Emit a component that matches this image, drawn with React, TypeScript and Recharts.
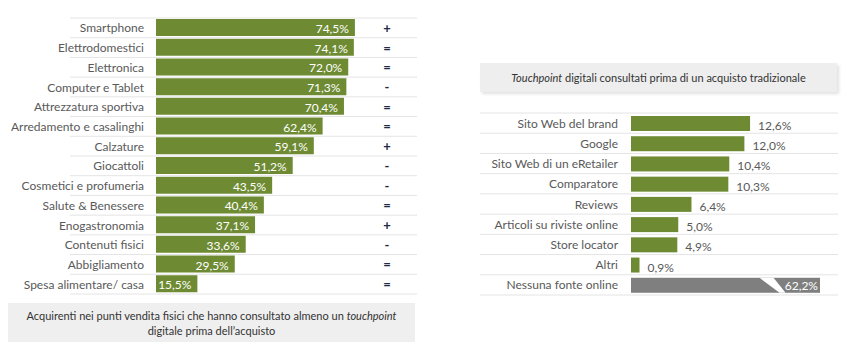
import React from "react";
import { BarChart, Bar, XAxis, YAxis, LabelList, Cell } from "recharts";

const leftCategories = [
  "Smartphone",
  "Elettrodomestici",
  "Elettronica",
  "Computer e Tablet",
  "Attrezzatura sportiva",
  "Arredamento e casalinghi",
  "Calzature",
  "Giocattoli",
  "Cosmetici e profumeria",
  "Salute & Benessere",
  "Enogastronomia",
  "Contenuti fisici",
  "Abbigliamento",
  "Spesa alimentare/ casa",
];
const leftValues = [74.5, 74.1, 72.0, 71.3, 70.4, 62.4, 59.1, 51.2, 43.5, 40.4, 37.1, 33.6, 29.5, 15.5];
const leftSigns = ["+", "=", "=", "-", "=", "=", "+", "-", "-", "=", "+", "-", "=", "="];

const rightCategories = [
  "Sito Web del brand",
  "Google",
  "Sito Web di un eRetailer",
  "Comparatore",
  "Reviews",
  "Articoli su riviste online",
  "Store locator",
  "Altri",
  "Nessuna fonte online",
];
const rightValues = [12.6, 12.0, 10.4, 10.3, 6.4, 5.0, 4.9, 0.9, 62.2];

const leftData = leftCategories.map((name, i) => ({ name, value: leftValues[i], sign: leftSigns[i] }));
const rightData = rightCategories.map((name, i) => ({ name, value: rightValues[i] }));

const GREEN = "#6e8b33";
const GRAY_BAR = "#7f7f7f";
const TEXT = "#595959";
const GRID = "#e4e4e4";
const FONT = "Lato, 'Open Sans', sans-serif";

const fmt = (v: number) => v.toFixed(1).replace(".", ",") + "%";

// Left chart geometry
const L_W = 423;
const L_H = 300;
const L_TOP = 18;
const L_BOTTOM = 6;
const L_AXIS_W = 156;
const L_BAND = (L_H - L_TOP - L_BOTTOM) / leftCategories.length;

// Right chart geometry
const R_LEFT = 470;
const R_TOP_POS = 100;
const R_W = 378;
const R_H = 200;
const R_TOP = 13;
const R_BOTTOM = 5;
const R_AXIS_W = 161;
const R_MAX = 20;
const R_BAND = (R_H - R_TOP - R_BOTTOM) / rightCategories.length;

const LeftTick = (props: any) => {
  const { y, payload } = props;
  const idx = payload?.index ?? props.index ?? 0;
  const sign = leftSigns[idx];
  return (
    <g>
      {idx === 0 && <line x1={70} x2={417} y1={y - L_BAND / 2} y2={y - L_BAND / 2} stroke={GRID} strokeWidth={1} />}
      <line x1={70} x2={417} y1={y + L_BAND / 2} y2={y + L_BAND / 2} stroke={GRID} strokeWidth={1} />
      <text x={L_AXIS_W - 12} y={y} textAnchor="end" dominantBaseline="central" fill={TEXT} fontSize={12} fontFamily={FONT}>
        {payload.value}
      </text>
      <text x={387} y={y} textAnchor="middle" dominantBaseline="central" fill="#1f2a44" fontSize={13} fontWeight="bold" fontFamily={FONT}>
        {sign}
      </text>
    </g>
  );
};

const RightTick = (props: any) => {
  const { y, payload } = props;
  const idx = payload?.index ?? props.index ?? 0;
  return (
    <g>
      {idx === 0 && <line x1={10} x2={368} y1={y - R_BAND / 2} y2={y - R_BAND / 2} stroke={GRID} strokeWidth={1} />}
      <line x1={10} x2={368} y1={y + R_BAND / 2} y2={y + R_BAND / 2} stroke={GRID} strokeWidth={1} />
      <text x={R_AXIS_W - 13} y={y} textAnchor="end" dominantBaseline="central" fill={TEXT} fontSize={12} fontFamily={FONT}>
        {payload.value}
      </text>
    </g>
  );
};

const LeftLabel = (props: any) => {
  const { x, y, width, height, value } = props;
  return (
    <text x={x + width - 6} y={y + height / 2 + 1} textAnchor="end" dominantBaseline="central" fill="#ffffff" fontSize={12} fontFamily={FONT}>
      {fmt(Number(value))}
    </text>
  );
};

const RightLabel = (props: any) => {
  const { x, y, width, height, value } = props;
  const v = Number(value);
  if (v > R_MAX) {
    const w = (width * R_MAX) / v;
    return (
      <text x={x + w - 2} y={y + height / 2} textAnchor="end" dominantBaseline="central" fill="#ffffff" fontSize={12} fontFamily={FONT}>
        {fmt(v)}
      </text>
    );
  }
  return (
    <text x={x + width + 8} y={y + height / 2 + 2} textAnchor="start" dominantBaseline="central" fill={TEXT} fontSize={12} fontFamily={FONT}>
      {fmt(v)}
    </text>
  );
};

const BrokenBar = (props: any) => {
  const { x, y, width, height, fill, background } = props;
  const maxRight = background ? background.x + background.width : x + width;
  const w = Math.min(width, maxRight - x);
  if (width <= maxRight - x + 0.5) {
    return <rect x={x} y={y} width={w} height={height} fill={fill} />;
  }
  const sx = x + w * 0.68;
  return (
    <g>
      <rect x={x} y={y} width={w} height={height} fill={fill} />
      <polygon
        points={`${sx},${y} ${sx + 14},${y} ${sx + 26},${y + height} ${sx + 20},${y + height}`}
        fill="#ffffff"
      />
    </g>
  );
};

export default function App() {
  return (
    <div style={{ position: "absolute", left: 0, top: 0, width: 848, height: 351, background: "#ffffff", fontFamily: FONT }}>
      <div style={{ position: "absolute", left: 0, top: 0 }}>
        <BarChart
          width={L_W}
          height={L_H}
          data={leftData}
          layout="vertical"
          margin={{ top: L_TOP, right: 0, bottom: L_BOTTOM, left: 0 }}
          barSize={17}
        >
          <XAxis type="number" domain={[0, 100]} hide />
          <YAxis
            type="category"
            dataKey="name"
            width={L_AXIS_W}
            axisLine={false}
            tickLine={false}
            interval={0}
            tick={(p: any) => <LeftTick {...p} />}
          />
          <Bar dataKey="value" fill={GREEN} isAnimationActive={false}>
            <LabelList dataKey="value" content={(p: any) => <LeftLabel {...p} />} />
          </Bar>
        </BarChart>
      </div>

      <div
        style={{
          position: "absolute",
          left: 8,
          top: 303,
          width: 407,
          height: 39,
          background: "#efefef",
          color: "#333333",
          fontSize: 11,
          lineHeight: "15px",
          textAlign: "center",
          display: "flex",
          flexDirection: "column",
          justifyContent: "center",
        }}
      >
        <div>
          Acquirenti nei punti vendita fisici che hanno consultato almeno un <i>touchpoint</i>
        </div>
        <div>digitale prima dell’acquisto</div>
      </div>

      <div
        style={{
          position: "absolute",
          left: 480,
          top: 63,
          width: 357,
          height: 29,
          background: "#eeeeee",
          boxShadow: "2px 2px 3px rgba(0,0,0,0.12)",
          color: "#333333",
          fontSize: 11,
          lineHeight: "29px",
          textAlign: "center",
        }}
      >
        <i>Touchpoint</i> digitali consultati prima di un acquisto tradizionale
      </div>

      <div style={{ position: "absolute", left: R_LEFT, top: R_TOP_POS }}>
        <BarChart
          width={R_W}
          height={R_H}
          data={rightData}
          layout="vertical"
          margin={{ top: R_TOP, right: R_W - R_AXIS_W - 189, bottom: R_BOTTOM, left: 0 }}
          barSize={15}
        >
          <XAxis type="number" domain={[0, R_MAX]} allowDataOverflow hide />
          <YAxis
            type="category"
            dataKey="name"
            width={R_AXIS_W}
            axisLine={false}
            tickLine={false}
            interval={0}
            tick={(p: any) => <RightTick {...p} />}
          />
          <Bar dataKey="value" fill={GREEN} isAnimationActive={false} shape={(p: any) => <BrokenBar {...p} />}>
            {rightData.map((d, i) => (
              <Cell key={i} fill={i === rightData.length - 1 ? GRAY_BAR : GREEN} />
            ))}
            <LabelList dataKey="value" content={(p: any) => <RightLabel {...p} />} />
          </Bar>
        </BarChart>
      </div>
    </div>
  );
}
